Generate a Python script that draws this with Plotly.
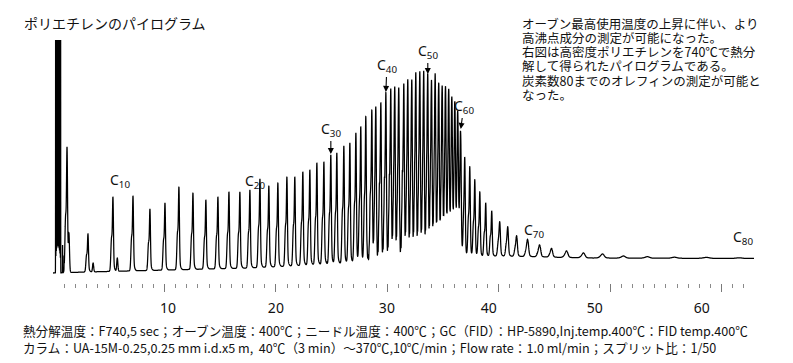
import numpy as np
import plotly.graph_objects as go

# ---------------- data ----------------
carbon_number = list(range(8, 81))
retention_min = [1.26, 3.14, 5.38, 7.18, 8.70, 10.05, 11.30, 12.56, 13.72, 14.80,
                 15.79, 16.77, 17.67, 18.57, 19.37, 20.18, 20.99, 21.70, 22.42, 23.05,
                 23.68, 24.31, 24.93, 25.47, 26.10, 26.64, 27.18, 27.62, 28.07, 28.61,
                 28.97, 29.42, 29.87, 30.31, 30.67, 31.03, 31.48, 31.84, 32.20, 32.56,
                 32.92, 33.27, 33.63, 33.97, 34.30, 34.62, 34.93, 35.23, 35.52, 35.80,
                 36.07, 36.33, 36.59, 36.95, 37.40, 37.85, 38.30, 38.83, 39.37, 40.09,
                 40.81, 41.61, 42.60, 43.68, 44.75, 46.10, 47.62, 49.33, 51.21, 53.36,
                 55.79, 58.66, 61.60]
apex_signal = [128, 41, 78, 79, 66, 72, 88, 82, 75, 78,
               83, 83, 85, 96, 89, 92, 98, 98, 103, 105,
               112, 113, 120, 122, 129, 132, 142, 148, 158, 165,
               167, 172, 182, 186, 187, 186, 191, 194, 194, 201,
               202, 202, 200, 193, 199, 190, 187, 186, 183, 175,
               170, 160, 138, 117, 108, 95, 83, 72, 64, 53,
               48, 39, 35.5, 30, 26.5, 24, 22, 21, 19, 18.3,
               17.8, 17.6, 17.2]
# unresolved minor peaks between neighbouring carbon numbers
band_signal = [0, 0, 0, 0, 0, 0, 0, 0, 0, 0,
               0, 0, 0, 0, 0, 0, 0, 0, 0, 0,
               0, 0, 0, 0, 0, 0, 0, 0, 5, 6,
               8, 9, 10, 10, 11, 11, 11, 12, 12, 12,
               12, 13, 13, 13, 13, 13, 14, 14, 14, 14,
               14, 14, 0, 0, 0, 0, 0, 0, 0, 0,
               0, 0, 0, 0, 0, 0, 0, 0, 0, 0,
               0, 0, 0]
gas_retention_min = [0.24, 0.28, 0.32, 0.36, 0.40, 0.44, 0.48, 0.52, 0.56, 0.60,
                     0.64, 0.68, 0.86, 1.00]
gas_apex_signal = [420, 600, 700, 760, 800, 820, 800, 760, 700, 620,
                   520, 380, 30, 14]
extra_retention_min = [1.43, 3.60, 5.77]
extra_apex_signal = [38, 12, 17]
baseline_min = [0, 3, 17.6, 25, 33, 36.6, 40, 48, 63]
baseline_signal = [2, 3, 7, 11, 14, 18, 19, 17, 16.5]
hump_min = [30, 36.55, 36.75]
hump_signal = [0, 8, 0]

major_ticks = [10, 20, 30, 40, 50, 60]
minor_ticks = [v for v in range(1, 63) if v % 10]
tick_label_text = ["10", "20", "30", "40", "50", "60"]
tick_label_pos = [10.31, 20.0, 29.96, 39.10, 48.61, 58.21]

label_carbons = [10, 20, 30, 40, 50, 60, 70, 80]

title_text = "ポリエチレンのパイログラム"
note_lines = ["オーブン最高使用温度の上昇に伴い、より",
              "高沸点成分の測定が可能になった。",
              "右図は高密度ポリエチレンを740℃で熱分",
              "解して得られたパイログラムである。",
              "炭素数80までのオレフィンの測定が可能と",
              "なった。"]
cond_lines = ["熱分解温度：F740,5 sec；オーブン温度：400℃；ニードル温度：400℃；GC（FID）：HP-5890,Inj.temp.400℃：FID temp.400℃",
              "カラム：UA-15M-0.25,0.25 mm i.d.x5 m,  40℃（3 min）～370℃,10℃/min；Flow rate：1.0 ml/min；スプリット比：1/50"]


# ---------------- build the trace ----------------
def floor_at(x):
    return np.interp(x, baseline_min, baseline_signal) + np.interp(x, hump_min, hump_signal)


def gauss(x, c, s):
    return np.exp(-0.5 * ((np.asarray(x)[None, :] - np.asarray(c)[:, None]) / np.asarray(s)[:, None]) ** 2)


rt = np.array(retention_min, float)
apex = np.array(apex_signal, float)
band = np.array(band_signal, float)
n = len(rt)
gap_prev = np.diff(rt, prepend=rt[0] - 1.9)
gap_next = np.diff(rt, append=rt[-1] + 3.0)
iso = rt > 36.5
s_main = np.where(iso, np.maximum(0.045, 0.08 * gap_prev), 0.045)
s_foot = np.where(iso, 2.5 * s_main, np.minimum(0.12, 0.25 * gap_prev))
offset = np.minimum(0.13, 0.28 * gap_prev)
SH, FT = 0.45, 0.1

# fixed (non-scaled) components: band, gas, extras
fc, fs, fa = [], [], []
for i in range(n):
    if band[i] > 0:
        for f in (0.22, 0.38, 0.54, 0.70, 0.84):
            fc.append(rt[i] + f * gap_next[i]); fs.append(0.016); fa.append(band[i])
for c, a in zip(gas_retention_min, gas_apex_signal):
    fc.append(c); fs.append(0.007); fa.append(a - floor_at(c))
for c, a in zip(extra_retention_min, extra_apex_signal):
    fc.append(c); fs.append(0.05); fa.append(a - floor_at(c))
fc, fs, fa = np.array(fc), np.array(fs), np.array(fa)


def unit_profile(x):
    # response of each carbon's peak group (per unit amplitude) at positions x
    return (gauss(x, rt, s_main) + SH * gauss(x, rt - offset, 1.3 * s_main)
            + FT * gauss(x, rt, s_foot))


# solve amplitudes so each apex reaches the value
M = unit_profile(rt).T            # (apex i, carbon j)
fixed_at_apex = (fa[:, None] * gauss(rt, fc, fs)).sum(axis=0)
A = np.linalg.solve(M, apex - floor_at(rt) - fixed_at_apex)

t = np.concatenate([np.arange(0.0, 1.2, 0.0008), np.arange(1.2, 62.9, 0.003)])
signal = floor_at(t) + (A[:, None] * unit_profile(t)).sum(axis=0) \
    + (fa[:, None] * gauss(t, fc, fs)).sum(axis=0)

# ---------------- figure ----------------
W, H = 793, 363
L, R, T, B = 53, 39, 40, 80
PW, PH = W - L - R, H - T - B
X0, X1 = 0.0, 62.9
Y0, Y1 = -8.0, 235.0


def px(xp):
    return (xp - L) / PW


def py(yp):
    return (H - B - yp) / PH


fig = go.Figure()
fig.add_trace(go.Scatter(x=t, y=signal, mode="lines",
                         line=dict(color="black", width=1.25, simplify=False),
                         hoverinfo="skip", showlegend=False))
fig.add_trace(go.Scatter(x=[], y=[], xaxis="x2", showlegend=False, hoverinfo="skip"))

jp = "Noto Sans CJK JP"
ann = []
ann.append(dict(text=title_text, xref="paper", yref="paper", x=px(22), y=py(23.5),
                xanchor="left", yanchor="middle", showarrow=False,
                font=dict(family=jp, size=14, color="#111")))
for k, line in enumerate(note_lines):
    ann.append(dict(text=line, xref="paper", yref="paper", x=px(520), y=py(23.3 + 14.2 * k),
                    xanchor="left", yanchor="middle", showarrow=False,
                    font=dict(family=jp, size=12.5, color="#111")))
for k, line in enumerate(cond_lines):
    ann.append(dict(text=line, xref="paper", yref="paper", x=px(21), y=py(330 + 17 * k),
                    xanchor="left", yanchor="middle", showarrow=False,
                    font=dict(family=jp, size=12.6, color="#111")))

lab_font = dict(family="Noto Sans", size=14, color="#111")
rt_of = dict(zip(carbon_number, retention_min))
# labels without arrows: (carbon, left px, centre y px)
plain = {10: (108, 180), 20: (243, 181), 70: (522, 230), 80: (731, 237)}
arrow = {30: (121, 0, -25), 40: (183, 1, -27), 50: (201, 0, -23), 60: (146, 3, -23)}
for c in label_carbons:
    txt = "C<sub>%d</sub>" % c
    if c in plain:
        lx, ly = plain[c]
        ann.append(dict(text=txt, xref="paper", yref="paper", x=px(lx), y=py(ly),
                        xanchor="left", yanchor="middle", showarrow=False, font=lab_font))
    else:
        tip, axo, ayo = arrow[c]
        ann.append(dict(text=txt, x=rt_of[c], y=tip, xref="x", yref="y",
                        showarrow=True, ax=axo, ay=ayo, arrowhead=2, arrowsize=1.1,
                        arrowwidth=1.1, arrowcolor="black", standoff=0, font=lab_font))

fig.update_layout(
    width=W, height=H, margin=dict(l=L, r=R, t=T, b=B),
    paper_bgcolor="white", plot_bgcolor="white",
    xaxis=dict(range=[X0, X1], showgrid=False, zeroline=False, showline=False,
               tickmode="array", tickvals=major_ticks, ticks="outside", ticklen=8,
               tickwidth=1, tickcolor="#7a7a7a", showticklabels=False,
               minor=dict(tickmode="array", tickvals=minor_ticks, ticks="outside",
                          ticklen=4, tickwidth=1, tickcolor="#8a8a8a", showgrid=False)),
    xaxis2=dict(overlaying="x", anchor="y", side="bottom", range=[X0, X1],
                tickmode="array", tickvals=tick_label_pos, ticktext=tick_label_text,
                ticks="outside", ticklen=12, tickcolor="rgba(0,0,0,0)",
                showgrid=False, zeroline=False, showline=False,
                tickfont=dict(family="Noto Sans", size=14, color="#111")),
    yaxis=dict(range=[Y0, Y1], visible=False),
    annotations=ann,
)

fig.write_html("out.html", config={"displayModeBar": False, "staticPlot": True},
               post_script="document.body.style.margin='0px';document.body.style.padding='0px';")
